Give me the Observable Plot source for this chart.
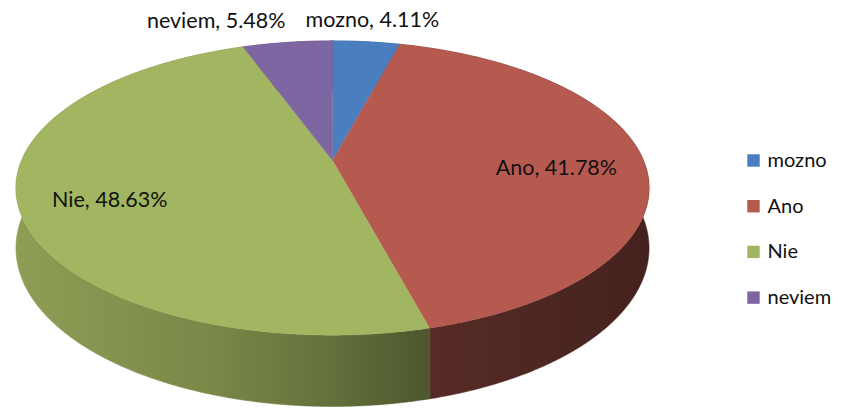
<!DOCTYPE html>
<html>
<head>
<meta charset="utf-8">
<script src="https://cdn.jsdelivr.net/npm/d3@7"></script>
<script src="https://cdn.jsdelivr.net/npm/@observablehq/plot@0.6"></script>
<style>
  html, body { margin: 0; padding: 0; background: #fff; }
  #chart { width: 848px; height: 411px; }
</style>
</head>
<body>
<div id="chart"></div>
<script>
// ---- data ----
const categories = ["mozno", "Ano", "Nie", "neviem"];
const percents = [4.11, 41.78, 48.63, 5.48];
const labels = ["mozno, 4.11%", "Ano, 41.78%", "Nie, 48.63%", "neviem, 5.48%"];
const colors = ["#4a7ebf", "#b65a50", "#a2b560", "#7d66a2"];

// ---- geometry of the tilted (perspective) pie ----
const W = 848, H = 411;
const cx = 332, cy = 160, A = 311, B = 142, k = 0.187, D0 = 58;
const rad = Math.PI / 180;
function proj(tDeg, r = 1, z = 0) {
  const t = tDeg * rad;
  const w = 1 / (1 + k * r * Math.cos(t));
  return [cx + A * r * Math.sin(t) * w, cy - B * r * Math.cos(t) * w + z * D0 * w];
}

const pie = d3.pie().sort(null).value(d => d.value)(
  categories.map((c, i) => ({ name: c, value: percents[i], color: colors[i], label: labels[i] }))
);
const slices = pie.map((p, i) => ({
  ...p.data,
  i,
  a0: p.startAngle / rad,
  a1: p.endAngle / rad,
  mid: (p.startAngle + p.endAngle) / 2 / rad
}));

// top faces
const topPts = [];
slices.forEach(s => {
  const c = proj(0, 0);
  topPts.push({ id: "top" + s.i, x: c[0], y: c[1], fill: s.color });
  for (let a = s.a0; a < s.a1; a += 0.25) {
    const p = proj(a);
    topPts.push({ id: "top" + s.i, x: p[0], y: p[1], fill: s.color });
  }
  const e = proj(s.a1);
  topPts.push({ id: "top" + s.i, x: e[0], y: e[1], fill: s.color });
});

// side walls (one band per slice, filled with a horizontal shading gradient)
const sidePts = [];
slices.forEach(s => {
  const rim = [], bot = [];
  for (let a = s.a0; a < s.a1; a += 0.25) { rim.push(proj(a)); bot.push(proj(a, 1, 1)); }
  rim.push(proj(s.a1)); bot.push(proj(s.a1, 1, 1));
  rim.concat(bot.reverse()).forEach(p =>
    sidePts.push({ id: "side" + s.i, x: p[0], y: p[1], fill: `url(#sideGrad${s.i})` })
  );
});
// shading factor along the width of the pie (left lit, right dark)
const shadeStops = [[0, 0.87], [0.3, 0.75], [0.5, 0.62], [0.65, 0.48], [1, 0.38]];
function gradientDefs(index, scales) {
  const g = d3.create("svg:g");
  const defs = g.append("defs");
  slices.forEach(s => {
    const c = d3.rgb(s.color);
    const lg = defs.append("linearGradient")
      .attr("id", "sideGrad" + s.i)
      .attr("gradientUnits", "userSpaceOnUse")
      .attr("x1", scales.x(cx - A)).attr("x2", scales.x(cx + A))
      .attr("y1", 0).attr("y2", 0);
    shadeStops.forEach(([o, f]) =>
      lg.append("stop").attr("offset", o)
        .attr("stop-color", d3.rgb(c.r * f, c.g * f, c.b * f).formatHex())
    );
  });
  return g.node();
}

// data labels
const labelData = slices.map(s => {
  const inside = s.value > 20;
  const r = inside ? 0.72 : 1.22;
  const p = proj(s.mid, r);
  const anchor = inside ? "middle" : (Math.sin(s.mid * rad) < 0 ? "end" : "middle");
  return { x: p[0], y: p[1], text: s.label, anchor, inside };
});

// legend
const legendData = categories.map((c, i) => ({ name: c, color: colors[i], i }));
const legX = 753, legY0 = 160, legGap = 45.7;

const plot = Plot.plot({
  width: W,
  height: H,
  margin: 0,
  x: { domain: [0, W], range: [0, W], axis: null },
  y: { domain: [0, H], range: [0, H], axis: null },
  color: { type: "identity" },
  style: { fontFamily: "Lato, 'Open Sans', sans-serif", background: "#fff" },
  marks: [
    gradientDefs,
    Plot.line(sidePts, { x: "x", y: "y", z: "id", fill: "fill", stroke: "fill", strokeWidth: 0.5, curve: "linear-closed" }),
    Plot.line(topPts, { x: "x", y: "y", z: "id", fill: "fill", stroke: "fill", strokeWidth: 0.4, curve: "linear-closed" }),
    Plot.text(labelData.filter(d => d.inside), { x: "x", y: "y", text: "text", textAnchor: "middle", dy: 8, fontSize: 21.5, fill: "#111" }),
    Plot.text(labelData.filter(d => !d.inside && d.anchor === "middle"), { x: "x", y: "y", text: "text", textAnchor: "middle", fontSize: 21.5, fill: "#111" }),
    Plot.text(labelData.filter(d => !d.inside && d.anchor === "end"), { x: "x", y: "y", text: "text", textAnchor: "end", dx: 6, fontSize: 21.5, fill: "#111" }),
    Plot.dot(legendData, { x: () => legX, y: d => legY0 + d.i * legGap, symbol: "square", r: 7, fill: "color", stroke: null }),
    Plot.text(legendData, { x: () => legX + 14, y: d => legY0 + d.i * legGap, text: "name", textAnchor: "start", fontSize: 20, fill: "#111" })
  ]
});
document.getElementById("chart").appendChild(plot);
</script>
</body>
</html>
